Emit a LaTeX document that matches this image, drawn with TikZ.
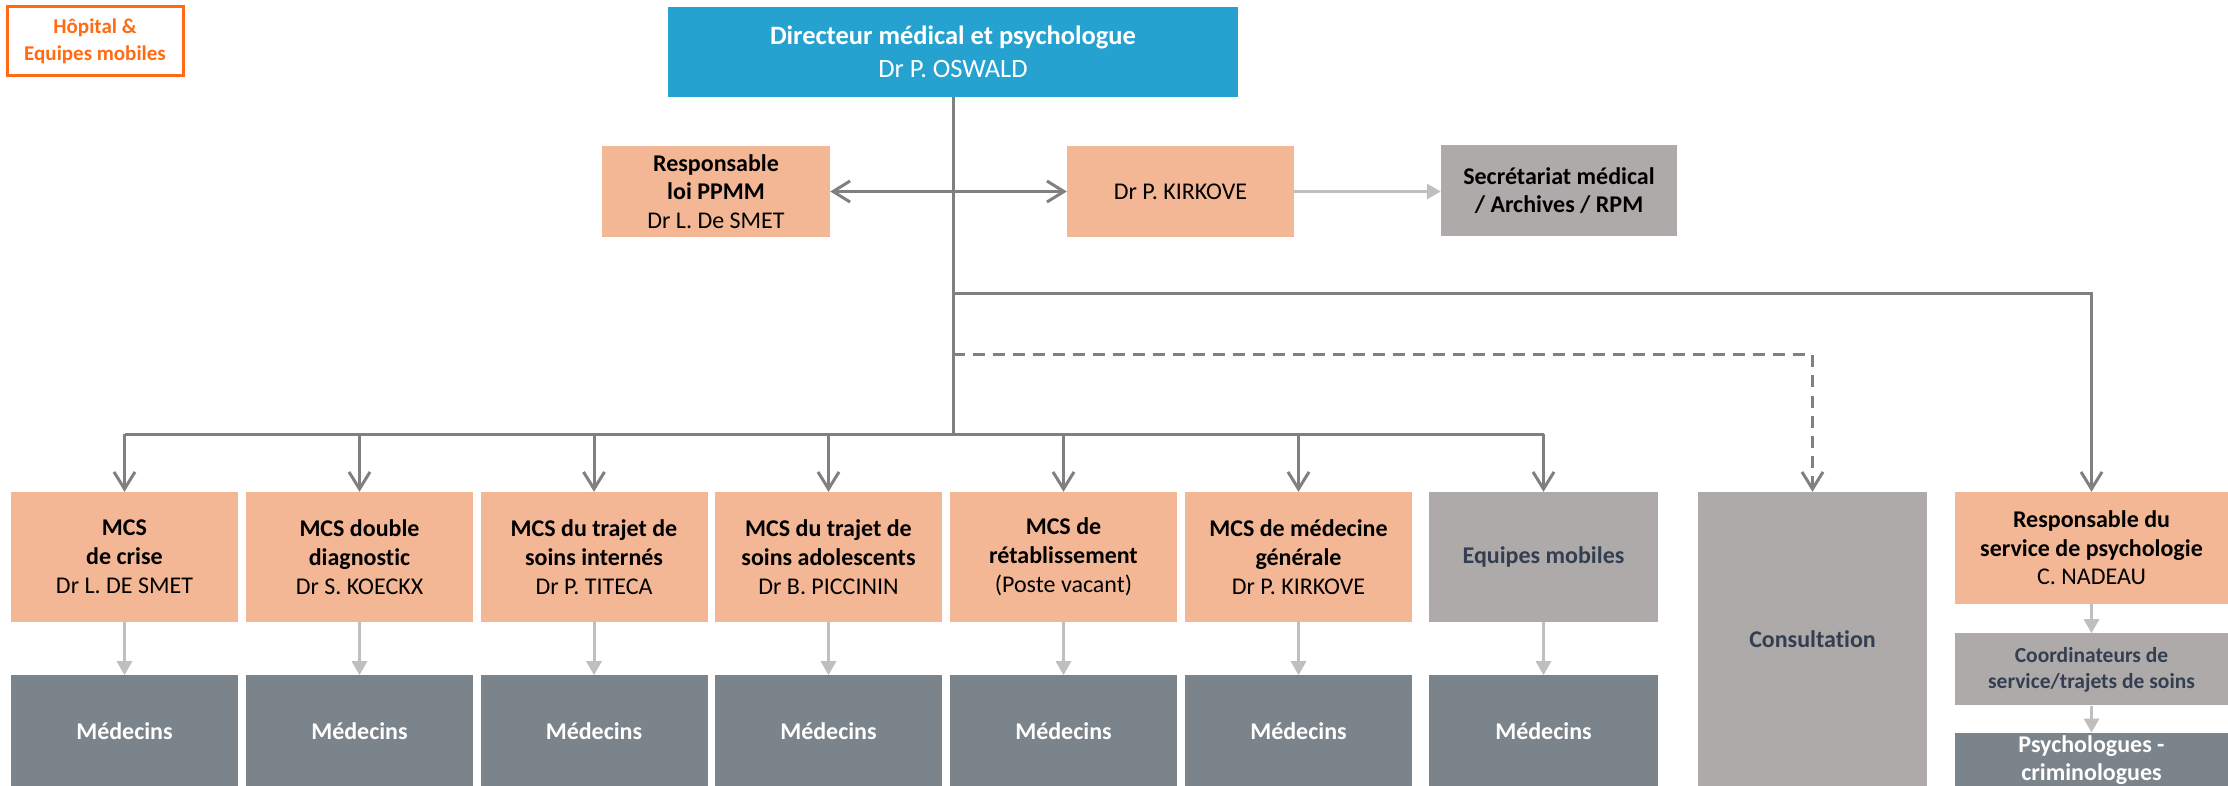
\documentclass[tikz,border=0pt]{standalone}
\usepackage{fontspec}
\setmainfont{Carlito}[Ligatures=NoCommon]
\usetikzlibrary{arrows.meta,positioning}
\definecolor{dirblue}{HTML}{25A2CF}
\definecolor{peach}{HTML}{F4B795}
\definecolor{boxgrey}{HTML}{AEAAAA}
\definecolor{medgrey}{HTML}{7B848B}
\definecolor{hopitalorange}{HTML}{FF6A13}
\definecolor{navytext}{HTML}{333F50}
\definecolor{linegrey}{HTML}{808080}
\definecolor{arrowgrey}{HTML}{BFBFBF}

\begin{document}
\begin{tikzpicture}[
        x = 1pt,
        y = -1pt,
        box/.style = {inner sep=0pt, align=center, minimum width=227pt, minimum height=130pt,
                      font=\fontsize{24}{29}\selectfont},
        mcs/.style = {box, fill=peach},
        greybox/.style = {box, fill=boxgrey, text=navytext, font=\fontsize{24}{29}\selectfont\bfseries},
        medecins/.style = {box, fill=medgrey, text=white, minimum height=111pt,
                           font=\fontsize{24}{29}\selectfont\bfseries},
        link/.style = {draw=linegrey, line width=3pt},
        down/.style = {link, -{Straight Barb[length=17pt,width=21pt]}},
        sub/.style = {draw=arrowgrey, line width=3pt, -{Triangle[length=14pt,width=15pt]}}]
        \useasboundingbox (0,0) rectangle (2228,786);
        % NODES
        % legend
        \node[draw=hopitalorange, line width=3pt, text=hopitalorange, inner sep=0pt, align=center,
              minimum width=176pt, minimum height=69pt, font=\fontsize{21}{27}\selectfont\bfseries]
              (hopital) at (95,41.5) {Hôpital \&\\Equipes mobiles};
        % director
        \node[box, fill=dirblue, text=white, minimum width=570pt, minimum height=90pt,
              font=\fontsize{26.5}{33}\selectfont]
              (dir) at (953,52) {\textbf{Directeur médical et psychologue}\\Dr P. OSWALD};
        % staff row
        \node[mcs, minimum width=228pt, minimum height=91pt, font=\fontsize{24}{28.5}\selectfont]
              (ppmm) at (716,191.5) {\textbf{Responsable}\\\textbf{loi PPMM}\\Dr L. De SMET};
        \node[mcs, minimum height=91pt] (kirkove) at (1180.5,191.5) {Dr P. KIRKOVE};
        \node[greybox, text=black, minimum width=236pt, minimum height=91pt,
              font=\fontsize{24}{28}\selectfont\bfseries]
              (secr) at (1559,190.5) {Secrétariat médical\\/ Archives / RPM};
        % MCS row
        \node[mcs] (crise) at (124.5,557) {\textbf{MCS}\\\textbf{de crise}\\Dr L. DE SMET};
        \node[mcs] (double) at (359.5,557) {\textbf{MCS double}\\\textbf{diagnostic}\\Dr S. KOECKX};
        \node[mcs] (internes) at (594,557) {\textbf{MCS du trajet de}\\\textbf{soins internés}\\Dr P. TITECA};
        \node[mcs] (ado) at (828.5,557) {\textbf{MCS du trajet de}\\\textbf{soins adolescents}\\Dr B. PICCININ};
        \node[mcs] (retab) at (1063.5,557) {\textbf{MCS de}\\\textbf{rétablissement}\\(Poste vacant)};
        \node[mcs] (generale) at (1298.5,557) {\textbf{MCS de médecine}\\\textbf{générale}\\Dr P. KIRKOVE};
        \node[greybox, minimum width=229pt] (equipes) at (1543.5,557) {Equipes mobiles};
        \node[greybox, minimum width=229pt, minimum height=294pt] (cons) at (1812.5,639) {Consultation};
        \node[mcs, minimum width=273pt, minimum height=112pt, font=\fontsize{24}{28.5}\selectfont]
              (resp) at (2091.5,548) {\textbf{Responsable du}\\\textbf{service de psychologie}\\C. NADEAU};
        % doctors row
        \node[medecins, below=53pt of crise] (medcrise) {Médecins};
        \node[medecins, below=53pt of double] (meddouble) {Médecins};
        \node[medecins, below=53pt of internes] (medinternes) {Médecins};
        \node[medecins, below=53pt of ado] (medado) {Médecins};
        \node[medecins, below=53pt of retab] (medretab) {Médecins};
        \node[medecins, below=53pt of generale] (medgenerale) {Médecins};
        \node[medecins, minimum width=229pt, below=53pt of equipes] (medequipes) {Médecins};
        % psychology column
        \node[greybox, minimum width=273pt, minimum height=72pt, font=\fontsize{21.5}{26}\selectfont\bfseries,
              below=29pt of resp] (coord) {Coordinateurs de\\service/trajets de soins};
        \node[medecins, minimum width=273pt, minimum height=54pt, font=\fontsize{24}{28}\selectfont\bfseries,
              below=27pt of coord] (psy) {Psychologues -\\criminologues};
        % junctions
        \coordinate (branch) at (953,294);
        \coordinate (dashstart) at (953,355);
        \coordinate (bus) at (953,434);

        % ARROWS
        \draw[link] (dir.south) -- (bus);
        \draw[link, {Straight Barb[length=17pt,width=21pt]}-{Straight Barb[length=17pt,width=21pt]}] (ppmm) -- (kirkove);
        \draw[sub] (kirkove.east) -- (kirkove.east -| secr.west);
        \draw[link] (crise.north |- bus) -- (equipes.north |- bus);
        \draw[down] (crise.north |- bus) -- (crise.north);
        \draw[down] (double.north |- bus) -- (double.north);
        \draw[down] (internes.north |- bus) -- (internes.north);
        \draw[down] (ado.north |- bus) -- (ado.north);
        \draw[down] (retab.north |- bus) -- (retab.north);
        \draw[down] (generale.north |- bus) -- (generale.north);
        \draw[down] (equipes.north |- bus) -- (equipes.north);
        \draw[down, dash pattern=on 12pt off 8pt] (dashstart) -| (cons.north);
        \draw[down] (branch) -| (resp.north);
        \draw[sub] (crise) -- (medcrise);
        \draw[sub] (double) -- (meddouble);
        \draw[sub] (internes) -- (medinternes);
        \draw[sub] (ado) -- (medado);
        \draw[sub] (retab) -- (medretab);
        \draw[sub] (generale) -- (medgenerale);
        \draw[sub] (equipes) -- (medequipes);
        \draw[sub] (resp) -- (coord);
        \draw[sub] (coord) -- (psy);
\end{tikzpicture}
\end{document}
